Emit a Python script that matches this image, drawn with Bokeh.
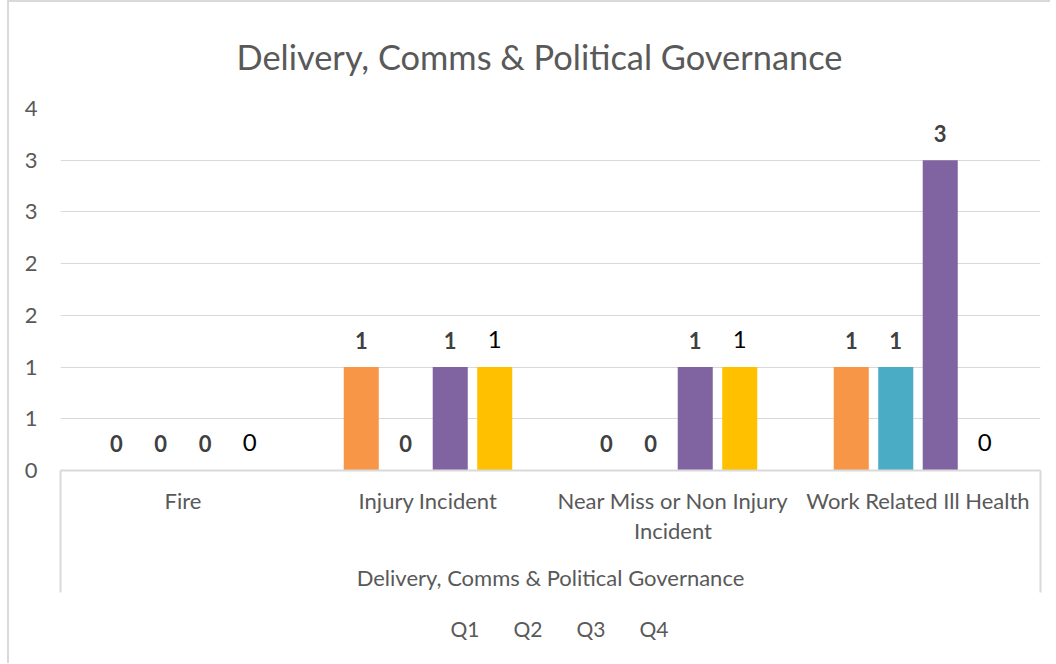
from bokeh.plotting import figure
from bokeh.layouts import column
from bokeh.models import (FixedTicker, Legend, LegendItem, ColumnDataSource,
                          LinearAxis, Range1d)
from bokeh.transform import dodge
from bokeh.core.properties import value
from bokeh.embed import file_html
from bokeh.resources import INLINE

# ---- data ----
categories = ["Fire", "Injury Incident", "Near Miss or Non Injury Incident", "Work Related Ill Health"]
label_line1 = ["Fire", "Injury Incident", "Near Miss or Non Injury", "Work Related Ill Health"]
label_line2 = ["", "", "Incident", ""]
group_label = "Delivery, Comms & Political Governance"
series = ["Q1", "Q2", "Q3", "Q4"]
q1 = [0, 1, 0, 1]
q2 = [0, 0, 0, 1]
q3 = [0, 1, 1, 3]
q4 = [0, 1, 1, 0]
y_ticks = [0, 0.5, 1, 1.5, 2, 2.5, 3, 3.5]
y_tick_labels = ["0", "1", "1", "2", "2", "3", "3", "4"]

colors = ["#F79646", "#4BACC6", "#8064A2", "#FFC000"]
offsets = [-0.2724, -0.0908, 0.0908, 0.2724]
FONT = "Lato"
GRAY = "#595959"
LINE = "#d9d9d9"

n = len(categories)
centres = [i + 0.5 for i in range(n)]   # category slots on a 0..n axis

p = figure(x_range=Range1d(0, n), y_range=(0, 3.5),
           frame_width=980, frame_height=362, output_backend="svg", toolbar_location=None,
           min_border_left=51, min_border_right=10, min_border_top=106, min_border_bottom=0,
           x_axis_location=None, title=group_label)
p.outline_line_color = None
p.background_fill_color = "white"
p.border_fill_color = "white"

p.title.align = "left"
p.title.offset = 176
p.title.text_font = FONT
p.title.text_font_size = "34.4px"
p.title.text_font_style = "normal"
p.title.text_color = GRAY
p.title.standoff = 63

for g in p.xgrid:
    g.grid_line_color = None
p.ygrid.grid_line_color = LINE
p.ygrid.grid_line_width = 1

p.yaxis.ticker = FixedTicker(ticks=y_ticks)
p.yaxis.major_label_overrides = {t: l for t, l in zip(y_ticks, y_tick_labels)}
p.yaxis.axis_line_color = None
p.yaxis.major_tick_line_color = None
p.yaxis.major_tick_out = 0
p.yaxis.major_tick_in = 0
p.yaxis.minor_tick_line_color = None
p.yaxis.major_label_text_font = FONT
p.yaxis.major_label_text_font_size = "22px"
p.yaxis.major_label_text_color = GRAY
p.yaxis.major_label_standoff = 23

ax1 = LinearAxis(ticker=FixedTicker(ticks=centres, minor_ticks=[0, n]),
                 major_label_overrides={c: l for c, l in zip(centres, label_line1)})
ax2 = LinearAxis(ticker=FixedTicker(ticks=[c for c, l in zip(centres, label_line2) if l], minor_ticks=[]),
                 major_label_overrides={c: l for c, l in zip(centres, label_line2) if l},
                 axis_label=group_label)
for ax in (ax1, ax2):
    ax.major_tick_out = 0
    ax.major_tick_in = 0
    ax.major_tick_line_color = None
    ax.major_label_text_font = FONT
    ax.major_label_text_font_size = "22px"
    ax.major_label_text_color = GRAY
ax1.axis_line_color = LINE
ax1.axis_line_width = 2
ax1.minor_tick_out = 0
ax1.minor_tick_in = -122
ax1.minor_tick_line_color = LINE
ax1.minor_tick_line_width = 2
ax1.major_label_standoff = 16
ax2.axis_line_color = None
ax2.minor_tick_line_color = None
ax2.minor_tick_out = 0
ax2.major_label_standoff = 0
ax2.axis_label_text_font = FONT
ax2.axis_label_text_font_size = "22px"
ax2.axis_label_text_font_style = "normal"
ax2.axis_label_text_color = GRAY
ax2.axis_label_standoff = 17
p.add_layout(ax1, "below")
p.add_layout(ax2, "below")

values = [q1, q2, q3, q4]
for name, vals, col, off in zip(series, values, colors, offsets):
    src = ColumnDataSource(dict(pos=centres, cat=categories, val=vals, lbl=[str(v) for v in vals]))
    p.vbar(x=dodge("pos", off), top="val", width=0.143, source=src,
           fill_color=col, line_color=None)
    if name == "Q4":
        p.text(x=dodge("pos", off), y="val", text="lbl", source=src,
               text_align="center", text_baseline="middle", y_offset=-28,
               text_font=value(FONT), text_font_size="24px", text_color="black")
    else:
        p.text(x=dodge("pos", off), y="val", text="lbl", source=src,
               text_align="center", text_baseline="middle", y_offset=-27,
               text_font=value(FONT), text_font_size="22px", text_font_style="bold",
               text_color="#404040")

# ---- legend strip under the chart ----
lf = figure(width=1041, height=70, output_backend="svg", toolbar_location=None,
            x_range=Range1d(0, 1), y_range=Range1d(0, 1),
            x_axis_location=None, y_axis_location=None,
            min_border_left=27, min_border_right=0, min_border_top=0, min_border_bottom=0)
lf.outline_line_color = None
lf.background_fill_color = "white"
lf.border_fill_color = "white"
for g in list(lf.xgrid) + list(lf.ygrid):
    g.visible = False
items = []
for name, col in zip(series, colors):
    r = lf.vbar(x=[], top=[], width=0.1, fill_color=col, line_color=None)
    items.append(LegendItem(label=name, renderers=[r]))
legend = Legend(items=items, orientation="horizontal", location="center",
                label_text_font=FONT, label_text_font_size="21px", label_text_color=GRAY,
                glyph_width=14, glyph_height=14, label_height=20, label_standoff=5, spacing=15,
                border_line_color=None, background_fill_alpha=0, padding=0, margin=0)
lf.add_layout(legend, "center")

layout = column(p, lf, spacing=0,
                styles={"border-left": "2px solid #d9d9d9", "border-top": "2px solid #d9d9d9",
                        "margin-left": "7px"})

open("out.html", "w").write(file_html(layout, INLINE))
